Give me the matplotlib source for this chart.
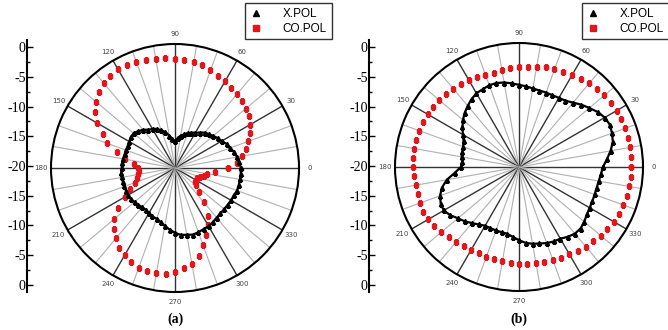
import numpy as np
import matplotlib.pyplot as plt
from matplotlib.lines import Line2D

# angles in degrees, one value every 5 deg (0..355)
angles = list(range(0, 360, 5))

# panel (a), dB
xpol_a = [-9.0, -9.3, -9.5, -9.8, -10.2, -10.5, -11.0, -11.3, -11.7, -12.0, -12.3, -12.8,
          -13.2, -13.5, -13.8, -14.2, -14.5, -15.0, -15.5, -15.2, -14.5, -13.8, -13.3, -12.8,
          -12.5, -12.2, -11.7, -11.3, -11.0, -11.0, -11.2, -11.3, -11.3, -11.3, -11.2, -11.2,
          -11.1, -11.0, -11.0, -11.0, -11.0, -11.0, -11.0, -11.0, -11.2, -11.3, -11.5, -11.5,
          -11.3, -11.1, -11.0, -10.7, -10.2, -9.7, -9.2, -8.8, -8.7, -8.5, -8.6, -8.75,
          -8.8, -9.0, -9.2, -9.3, -9.3, -9.3, -9.2, -9.2, -9.0, -9.0, -9.0, -9.0]
copol_a = [-11.2, -9.7, -8.7, -7.8, -7.0, -6.2, -5.5, -5.0, -4.6, -4.3, -4.0, -3.7,
           -3.3, -3.0, -2.7, -2.3, -2.1, -1.9, -1.8, -1.6, -1.5, -1.3, -1.2, -1.0,
           -1.0, -1.2, -1.5, -2.2, -2.8, -3.8, -5.0, -6.7, -8.0, -10.0, -11.5, -13.2,
           -13.8, -14.0, -13.8, -13.4, -12.9, -11.8, -10.3, -8.3, -6.8, -5.7, -4.7, -3.8,
           -3.2, -2.7, -2.3, -2.2, -2.2, -2.3, -2.7, -3.2, -3.8, -4.8, -6.3, -7.7,
           -9.0, -10.3, -12.5, -14.3, -15.5, -16.0, -16.0, -15.9, -15.5, -15.0, -14.5, -13.3]

# panel (b), dB
xpol_b = [-6.0, -5.3, -4.5, -3.8, -3.5, -3.3, -3.5, -4.0, -4.7, -5.3, -6.0, -6.5,
          -6.7, -6.8, -6.8, -6.8, -6.7, -6.5, -6.3, -6.0, -5.7, -5.5, -5.5, -5.7,
          -5.8, -6.2, -6.7, -7.2, -7.8, -8.5, -9.2, -9.8, -10.1, -10.2, -10.3, -10.5,
          -10.3, -9.3, -7.8, -6.7, -6.0, -5.6, -5.5, -6.0, -6.7, -7.2, -7.8, -8.3,
          -8.7, -8.75, -8.75, -8.75, -8.7, -8.3, -7.8, -7.3, -7.0, -6.8, -6.5, -6.3,
          -6.2, -5.8, -5.5, -5.5, -5.8, -6.2, -6.4, -6.5, -6.6, -6.6, -6.5, -6.3]
copol_b = [-1.3, -1.2, -1.2, -1.2, -1.2, -1.2, -1.2, -1.3, -1.4, -1.5, -1.8, -2.0,
           -2.2, -2.5, -2.7, -2.8, -3.0, -3.2, -3.3, -3.5, -3.6, -3.7, -3.6, -3.5,
           -3.3, -3.2, -3.0, -2.9, -2.7, -2.5, -2.4, -2.3, -2.3, -2.3, -2.3, -2.3,
           -2.3, -2.4, -2.5, -2.5, -2.4, -2.3, -2.5, -2.8, -3.1, -3.4, -3.7, -3.9,
           -4.0, -4.1, -4.1, -4.1, -4.1, -4.0, -3.9, -3.8, -3.7, -3.6, -3.5, -3.3,
           -3.2, -2.9, -2.7, -2.5, -2.2, -2.0, -1.8, -1.6, -1.5, -1.4, -1.3, -1.3]

theta_labels = list(range(0, 360, 30))
left_ticks = [-20, -15, -10, -5, 0, 5, 10, 15, 20]
left_labels = ['0', '-5', '-10', '-15', '-20', '-15', '-10', '-5', '0']

RED = '#e3161b'
W, H = 668, 330
fig = plt.figure(figsize=(W / 100, H / 100), dpi=100)


def polar_panel(cx, cy, xpol, copol):
    rad = 124
    ax = fig.add_axes([(cx - rad) / W, 1 - (cy + rad) / H, 2 * rad / W, 2 * rad / H],
                      projection='polar')
    rmax = 0.67
    ax.set_ylim(-20, rmax)
    ax.set_yticks([])
    ax.grid(False)
    # spokes
    for a in range(0, 360, 10):
        dark = a % 30 == 0
        ax.plot([np.radians(a)] * 2, [-20, rmax], color='#333333' if dark else '#b0b0b0',
                lw=1.0 if dark else 0.8, zorder=1)
    ax.set_xticks(np.radians(theta_labels))
    ax.set_xticklabels([str(t) for t in theta_labels], fontsize=5, color='#444444')
    ax.tick_params(axis='x', pad=-3)
    ax.spines['polar'].set_linewidth(1.5)
    th = np.radians(angles + [angles[0]])
    ax.plot(th, copol + [copol[0]], ls='none', marker='s', ms=3.2, color=RED, zorder=3)
    ax.plot(th, xpol + [xpol[0]], color='black', lw=1.6, marker='^', ms=3.0, zorder=4)
    return ax


def left_axis(x):
    ax = fig.add_axes([x / W, 1 - 292 / H, 0.01, 252 / H])
    ax.set_ylim(-21.2, 21.2)
    for s in ['top', 'right', 'bottom']:
        ax.spines[s].set_visible(False)
    ax.spines['left'].set_linewidth(1.5)
    ax.set_xticks([])
    ax.set_yticks(left_ticks)
    ax.set_yticks(np.arange(-17.5, 20, 5), minor=True)
    ax.set_yticklabels(left_labels, family='Liberation Serif', fontsize=10)
    ax.tick_params(axis='y', which='both', direction='in', width=1.0)
    ax.tick_params(axis='y', which='major', length=4, pad=1)
    ax.tick_params(axis='y', which='minor', length=2)
    ax.patch.set_alpha(0)


polar_panel(175, 168, xpol_a, copol_a)
polar_panel(519, 167, xpol_b, copol_b)
left_axis(27)
left_axis(369)

handles = [Line2D([], [], ls='none', marker='^', ms=5, color='black', label='X.POL'),
           Line2D([], [], ls='none', marker='s', ms=5, color=RED, label='CO.POL')]
for lx in [245, 582]:
    leg = fig.legend(handles=handles, loc='upper left', bbox_to_anchor=(lx / W, 1 - 3 / H),
                     frameon=True, fancybox=False, edgecolor='black',
                     handlelength=1.0, handletextpad=1.8, borderpad=0.4, borderaxespad=0,
                     labelspacing=0.25, prop={'family': 'Liberation Sans', 'size': 8.5})
    leg.get_frame().set_linewidth(1.0)

fig.text(175 / W, 1 - 319 / H, '(a)', ha='center', va='center',
         family='Liberation Serif', fontweight='bold', fontsize=10)
fig.text(519 / W, 1 - 319 / H, '(b)', ha='center', va='center',
         family='Liberation Serif', fontweight='bold', fontsize=10)

fig.savefig('out.png', dpi=100)
